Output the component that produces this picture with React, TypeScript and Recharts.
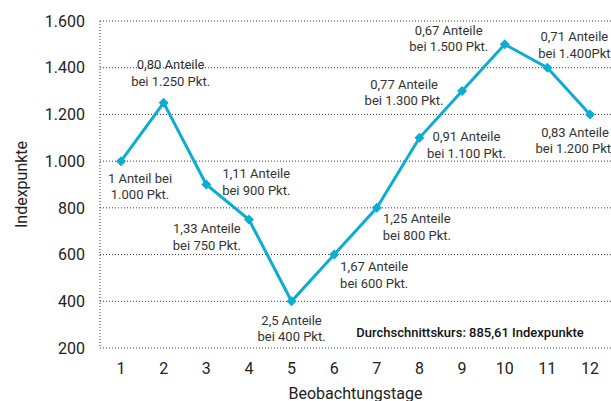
import React from "react";
import {
  LineChart,
  Line,
  XAxis,
  YAxis,
  CartesianGrid,
  LabelList,
} from "recharts";

const days = ["1", "2", "3", "4", "5", "6", "7", "8", "9", "10", "11", "12"];
const indexPoints = [1000, 1250, 900, 750, 400, 600, 800, 1100, 1300, 1500, 1400, 1200];
const shareLines = [
  "1 Anteil bei",
  "0,80 Anteile",
  "1,11 Anteile",
  "1,33 Anteile",
  "2,5 Anteile",
  "1,67 Anteile",
  "1,25 Anteile",
  "0,91 Anteile",
  "0,77 Anteile",
  "0,67 Anteile",
  "0,71 Anteile",
  "0,83 Anteile",
];
const priceLines = [
  "1.000 Pkt.",
  "bei 1.250 Pkt.",
  "bei 900 Pkt.",
  "bei 750 Pkt.",
  "bei 400 Pkt.",
  "bei 600 Pkt.",
  "bei 800 Pkt.",
  "bei 1.100 Pkt.",
  "bei 1.300 Pkt.",
  "bei 1.500 Pkt.",
  "bei 1.400Pkt",
  "bei 1.200 Pkt.",
];
const yTicks = [200, 400, 600, 800, 1000, 1200, 1400, 1600];
const averageNote = "Durchschnittskurs: 885,61 Indexpunkte";

// label offsets from each point (center of first line)
const labelOffsets = [
  [19, 17],
  [7, -38],
  [50, -11],
  [-42, 9],
  [0, 19],
  [40, 12],
  [40, 11],
  [47, -1],
  [-58, -7],
  [-56, -14],
  [27, -31],
  [-15, 18],
];

const data = days.map((day, i) => ({
  day,
  value: indexPoints[i],
  share: shareLines[i],
  price: priceLines[i],
}));

const BLUE = "#0badd1";
const FONT = "Roboto, 'DejaVu Sans', sans-serif";

const fmt = (v: number) => v.toLocaleString("de-DE");

function Diamond(props: any) {
  const { cx, cy } = props;
  if (cx == null || cy == null) return null;
  const s = 5;
  return (
    <path
      d={`M${cx},${cy - s}L${cx + s},${cy}L${cx},${cy + s}L${cx - s},${cy}Z`}
      fill={BLUE}
    />
  );
}

function PointLabel(props: any) {
  const { x, y, index } = props;
  const [dx, dy] = labelOffsets[index];
  const cx = x + dx;
  const cy = y + dy;
  return (
    <text
      textAnchor="middle"
      fontFamily={FONT}
      fontSize={13}
      fill="#333"
    >
      <tspan x={cx} y={cy + 4.5}>
        {shareLines[index]}
      </tspan>
      <tspan x={cx} y={cy + 21}>
        {priceLines[index]}
      </tspan>
    </text>
  );
}

export default function App() {
  return (
    <div style={{ width: 611, height: 401, background: "#fff" }}>
      <style>{`body{margin:0}`}</style>
      <LineChart
        width={611}
        height={401}
        data={data}
        margin={{ top: 21, right: 0, left: 0, bottom: 0 }}
      >
        <CartesianGrid
          vertical={false}
          stroke="#333"
          strokeDasharray="1 2"
        />
        <XAxis
          dataKey="day"
          padding={{ left: 21, right: 21 }}
          axisLine={false}
          tickLine={false}
          tickSize={0}
          tickMargin={15}
          height={53}
          tick={{ fill: "#222", fontSize: 16, fontFamily: FONT }}
          label={{
            value: "Beobachtungstage",
            position: "insideBottom",
            offset: 2,
            fill: "#222",
            fontSize: 16,
            fontFamily: FONT,
          }}
        />
        <YAxis
          width={100}
          domain={[200, 1600]}
          ticks={yTicks}
          tickFormatter={fmt}
          axisLine={{ stroke: "#333", strokeDasharray: "1 2" }}
          tickLine={false}
          tickSize={0}
          tickMargin={15}
          tick={{ fill: "#222", fontSize: 16, fontFamily: FONT }}
          label={{
            value: "Indexpunkte",
            angle: -90,
            position: "insideLeft",
            offset: 21,
            fill: "#222",
            fontSize: 16,
            fontFamily: FONT,
            style: { textAnchor: "middle" },
          }}
        />
        <Line
          type="linear"
          dataKey="value"
          stroke={BLUE}
          strokeWidth={3}
          dot={<Diamond />}
          activeDot={false}
          isAnimationActive={false}
        >
          <LabelList dataKey="share" content={<PointLabel />} />
        </Line>
        <text
          x={470}
          y={337}
          textAnchor="middle"
          fontFamily={FONT}
          fontSize={13}
          fontWeight={500}
          fill="#111"
        >
          {averageNote}
        </text>
      </LineChart>
    </div>
  );
}
